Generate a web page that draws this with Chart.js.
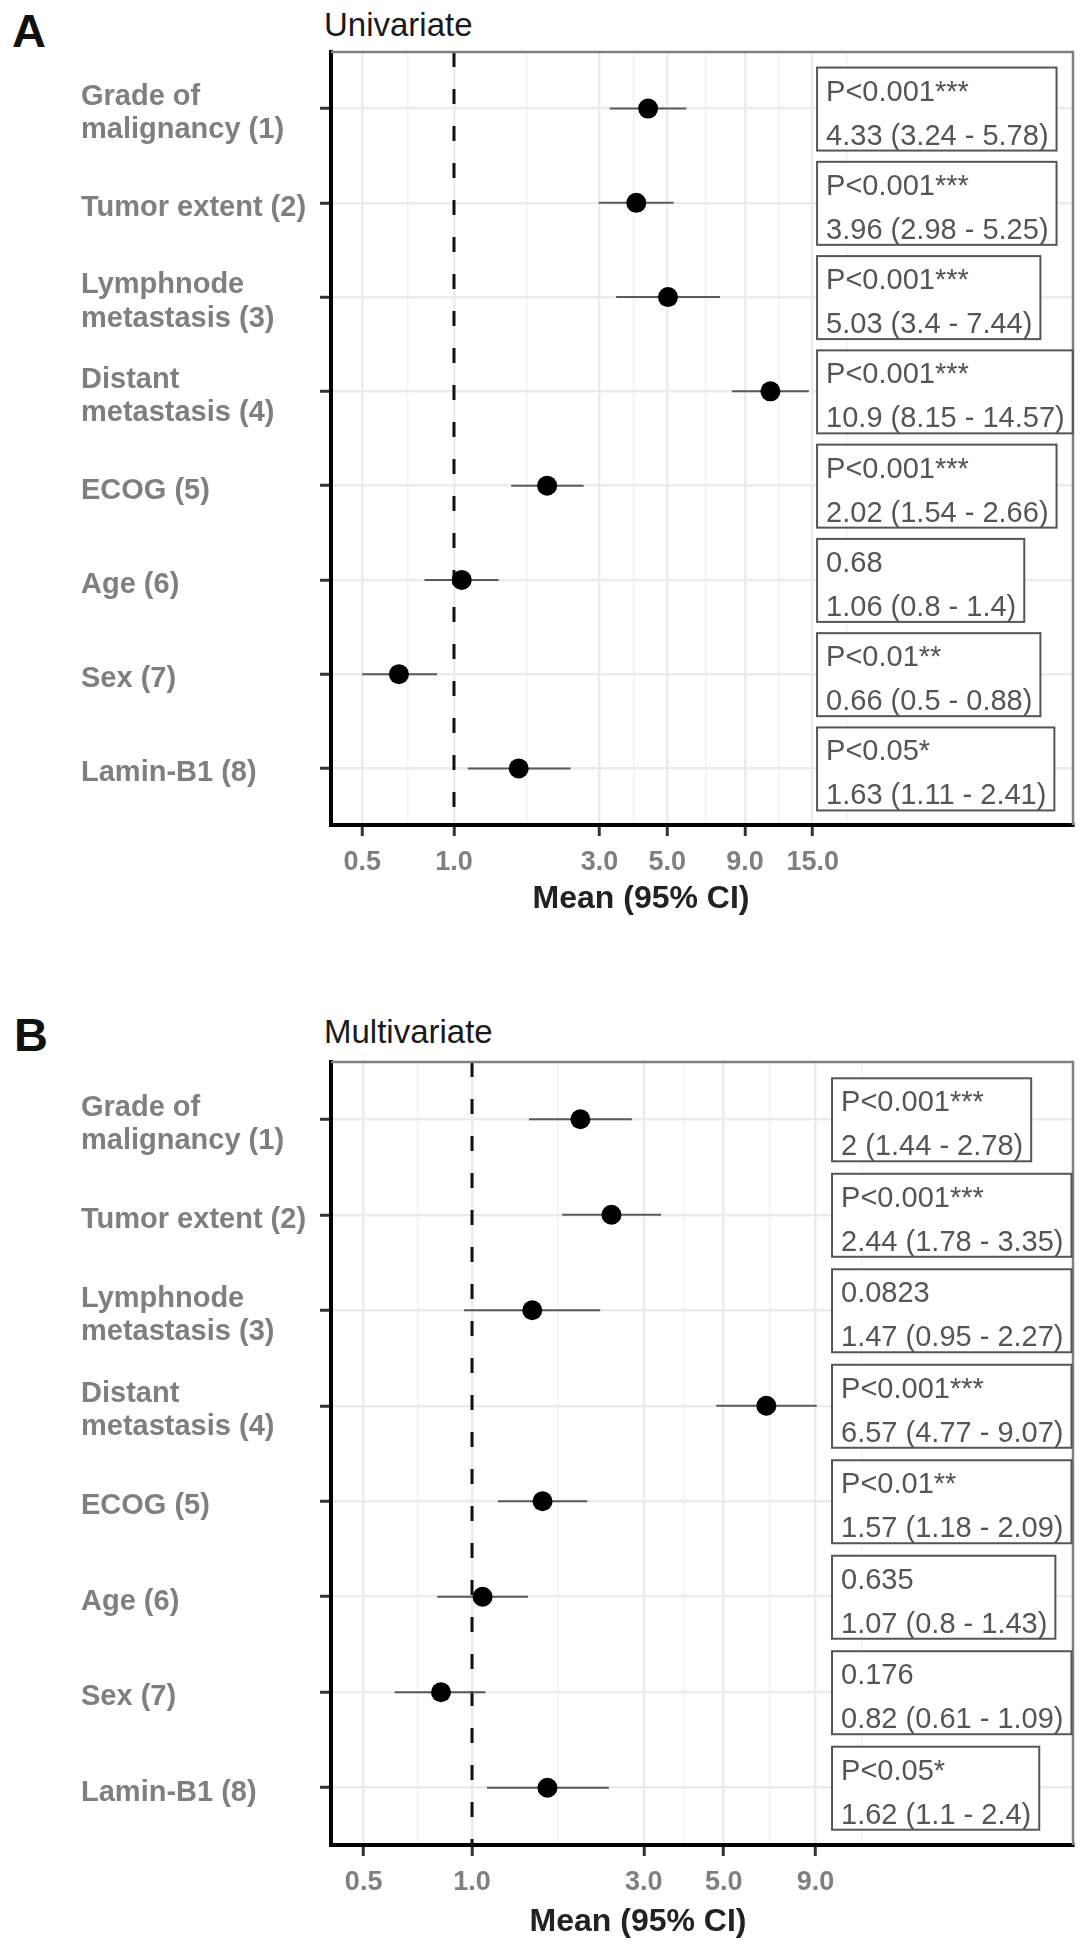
<!DOCTYPE html>
<html>
<head>
<meta charset="utf-8">
<script src="https://cdn.jsdelivr.net/npm/chart.js@4.4.0/dist/chart.umd.min.js"></script>
<style>
  body { margin: 0; background: #fff; width: 1087px; height: 1958px; position: relative; overflow: hidden;
         font-family: "Liberation Sans", Arial, Helvetica, sans-serif; }
  .wrap { position: absolute; left: 0; width: 1087px; }
  .t { position: absolute; white-space: nowrap; }
  .letter { font-size: 47px; line-height: 47px; font-weight: bold; color: #111; }
  .head { font-size: 33px; line-height: 33px; color: #1a1a1a; }
  .xt { font-size: 32px; line-height: 32px; font-weight: bold; color: #222; width: 600px; text-align: center; }
</style>
</head>
<body>

<div class="t letter" style="left:12px;top:7px">A</div>
<div class="t head" style="left:324px;top:8px">Univariate</div>
<div class="wrap" style="top:0;height:960px"><canvas id="chartA"></canvas></div>
<div class="t xt" style="left:341px;top:881px">Mean (95% CI)</div>

<div class="t letter" style="left:14px;top:1011px">B</div>
<div class="t head" style="left:324px;top:1015px">Multivariate</div>
<div class="wrap" style="top:1010px;height:948px"><canvas id="chartB"></canvas></div>
<div class="t xt" style="left:338px;top:1904px">Mean (95% CI)</div>

<script>
var rowLabels = [["Grade of", "malignancy (1)"], "Tumor extent (2)", ["Lymphnode", "metastasis (3)"],
                 ["Distant", "metastasis (4)"], "ECOG (5)", "Age (6)", "Sex (7)", "Lamin-B1 (8)"];

// A - univariate
var uniMean = [4.33, 3.96, 5.03, 10.9, 2.02, 1.06, 0.66, 1.63];
var uniLow  = [3.24, 2.98, 3.4, 8.15, 1.54, 0.8, 0.5, 1.11];
var uniHigh = [5.78, 5.25, 7.44, 14.57, 2.66, 1.4, 0.88, 2.41];
var uniP    = ["P<0.001***", "P<0.001***", "P<0.001***", "P<0.001***", "P<0.001***", "0.68", "P<0.01**", "P<0.05*"];
var uniTicks = [0.5, 1, 3, 5, 9, 15];

// B - multivariate
var multiMean = [2, 2.44, 1.47, 6.57, 1.57, 1.07, 0.82, 1.62];
var multiLow  = [1.44, 1.78, 0.95, 4.77, 1.18, 0.8, 0.61, 1.1];
var multiHigh = [2.78, 3.35, 2.27, 9.07, 2.09, 1.43, 1.09, 2.4];
var multiP    = ["P<0.001***", "P<0.001***", "0.0823", "P<0.001***", "P<0.01**", "0.635", "0.176", "P<0.05*"];
var multiTicks = [0.5, 1, 3, 5, 9];

var FONT = '"Liberation Sans", Arial, Helvetica, sans-serif';
Chart.defaults.font.family = FONT;

// minor grid lines half way (in log space) between the major breaks
function minorTicks(major) {
  var lg = major.map(Math.log10);
  var n = lg.length;
  var ext = [2 * lg[0] - lg[1]].concat(lg, [2 * lg[n - 1] - lg[n - 2]]);
  var out = [];
  for (var i = 0; i < ext.length - 1; i++) out.push(Math.pow(10, (ext[i] + ext[i + 1]) / 2));
  return out;
}

// panel border (top/right) and the p-value / CI labels
var panelPlugin = {
  id: 'panel',
  afterDatasetsDraw: function(chart, args, opts) {
    var ctx = chart.ctx, a = chart.chartArea;
    var xs = chart.scales.x, ys = chart.scales.y;
    ctx.save();
    ctx.strokeStyle = '#808080';
    ctx.lineWidth = 2.5;
    ctx.beginPath();
    ctx.moveTo(a.left, a.top);
    ctx.lineTo(a.right, a.top);
    ctx.lineTo(a.right, a.bottom);
    ctx.stroke();

    ctx.font = '29px ' + FONT;
    ctx.textBaseline = 'alphabetic';
    opts.pText.forEach(function(p, i) {
      var ci = opts.mean[i] + ' (' + opts.low[i] + ' - ' + opts.high[i] + ')';
      var x0 = xs.getPixelForValue(opts.labelX);
      var yc = ys.getPixelForValue(i + 1);
      var w = Math.max(ctx.measureText(p).width, ctx.measureText(ci).width) + 17;
      ctx.fillStyle = '#fff';
      ctx.fillRect(x0, yc - 41, w, 83);
      ctx.strokeStyle = '#555';
      ctx.lineWidth = 2;
      ctx.strokeRect(x0, yc - 41, w, 83);
      ctx.fillStyle = '#555';
      ctx.fillText(p, x0 + 9, yc - 8);
      ctx.fillText(ci, x0 + 9, yc + 36);
    });
    ctx.restore();
  }
};

function makeChart(id, mean, low, high, pText, ticks, xmin, xmax, labelX, axisH) {
  var datasets = [{
    type: 'scatter',
    data: mean.map(function(m, i) { return { x: m, y: i + 1 }; }),
    pointRadius: 10, pointBackgroundColor: '#000', pointBorderWidth: 0, order: 0
  }];
  mean.forEach(function(m, i) {
    datasets.push({
      type: 'line',
      data: [{ x: low[i], y: i + 1 }, { x: high[i], y: i + 1 }],
      borderColor: '#5a5a5a', borderWidth: 2, pointRadius: 0, order: 1
    });
  });
  datasets.push({
    type: 'line',
    data: [{ x: 1, y: 0.4 }, { x: 1, y: 8.6 }],
    borderColor: '#111', borderWidth: 3, borderDash: [15, 22], pointRadius: 0, order: 2
  });

  var minors = minorTicks(ticks).filter(function(v) { return v > xmin && v < xmax; });
  var allTicks = ticks.concat(minors).sort(function(a, b) { return a - b; });
  function isMajor(c) { return c.tick && ticks.indexOf(c.tick.value) >= 0; }

  return new Chart(document.getElementById(id), {
    type: 'scatter',
    data: { datasets: datasets },
    plugins: [panelPlugin],
    options: {
      responsive: true,
      maintainAspectRatio: false,
      animation: false,
      layout: { padding: { left: 81, top: 52, right: 14, bottom: 0 } },
      plugins: {
        legend: { display: false },
        tooltip: { enabled: false },
        panel: { pText: pText, mean: mean, low: low, high: high, labelX: labelX }
      },
      scales: {
        x: {
          type: 'logarithmic', min: xmin, max: xmax,
          afterBuildTicks: function(s) { s.ticks = allTicks.map(function(v) { return { value: v }; }); },
          afterFit: function(s) { s.height = axisH; },
          ticks: {
            autoSkip: false, maxRotation: 0, padding: 10, color: '#7f7f7f',
            font: { size: 27, weight: 'bold' },
            callback: function(v) { return ticks.indexOf(v) >= 0 ? v.toFixed(1) : ''; }
          },
          grid: {
            color: function(c) { return isMajor(c) ? '#ebebeb' : '#f2f2f2'; },
            lineWidth: function(c) { return isMajor(c) ? 2.5 : 1.5; },
            tickColor: function(c) { return isMajor(c) ? '#333' : 'rgba(0,0,0,0)'; },
            tickLength: 11, tickWidth: 3
          },
          border: { color: '#000', width: 4 }
        },
        y: {
          type: 'linear', reverse: true, min: 0.4, max: 8.6,
          afterBuildTicks: function(s) { s.ticks = rowLabels.map(function(r, i) { return { value: i + 1 }; }); },
          afterFit: function(s) { s.width = 250; },
          ticks: {
            autoSkip: false, crossAlign: 'far', labelOffset: 5, color: '#7f7f7f',
            font: { size: 29, weight: 'bold', lineHeight: 1.15 },
            callback: function(v) { return rowLabels[v - 1]; }
          },
          grid: { color: '#ebebeb', lineWidth: 2.5, tickLength: 11, tickWidth: 3, tickColor: '#333' },
          border: { color: '#000', width: 4 }
        }
      }
    }
  });
}

makeChart('chartA', uniMean, uniLow, uniHigh, uniP, uniTicks, 0.3952, 107.0, 15.5, 135);
makeChart('chartB', multiMean, multiLow, multiHigh, multiP, multiTicks, 0.4058, 46.7, 10.0, 113);
</script>
</body>
</html>
